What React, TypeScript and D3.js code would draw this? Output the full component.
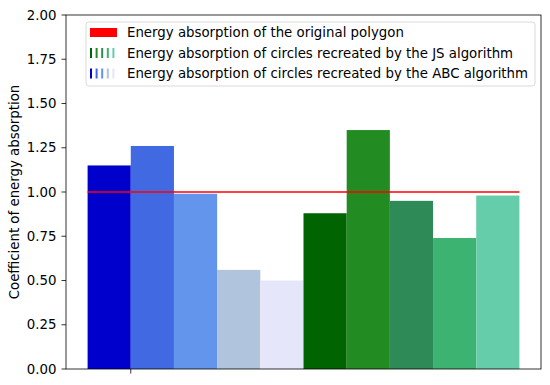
import * as d3 from "d3"
import React from "react"

const abcColors = ["#0000CD", "#4169E1", "#6495ED", "#B0C4DE", "#E6E6FA"]
const jsColors = ["#006400", "#228B22", "#2E8B57", "#3CB371", "#66CDAA"]
const abcValues = [1.15, 1.26, 0.99, 0.56, 0.5]
const jsValues = [0.88, 1.35, 0.95, 0.74, 0.98]
const polygonValue = 1.0
const yTicks = [0, 0.25, 0.5, 0.75, 1, 1.25, 1.5, 1.75, 2]
const legendLabels = [
  "Energy absorption of the original polygon",
  "Energy absorption of circles recreated by the JS algorithm",
  "Energy absorption of circles recreated by the ABC algorithm",
]

const width = 550
const height = 385
const margin = { top: 15, right: 9, bottom: 16, left: 66 }

const App = () => {
  const bars = [
    ...abcValues.map((v, i) => ({ pos: i, value: v, color: abcColors[i] })),
    ...jsValues.map((v, i) => ({ pos: 5 + i, value: v, color: jsColors[i] })),
  ]

  const x = d3.scaleLinear().domain([-0.5, 10.5]).range([margin.left, width - margin.right])
  const y = d3.scaleLinear().domain([0, 2]).range([height - margin.bottom, margin.top])
  const fmt = d3.format(".2f")
  const font = "DejaVu Sans, sans-serif"
  const fs = 13.33

  const lx = 86, ly = 22
  const rowY = [32, 53, 73]

  return (
    <svg width={width} height={height} style={{ position: "absolute", left: 0, top: 0 }} fontFamily={font}>
      <rect width={width} height={height} fill="#fff" />
      {bars.map((b, i) => (
        <rect key={i} x={x(b.pos)} y={y(b.value)} width={x(b.pos + 1) - x(b.pos)}
          height={y(0) - y(b.value)} fill={b.color} />
      ))}
      <line x1={x(0)} x2={x(10)} y1={y(polygonValue)} y2={y(polygonValue)} stroke="#ff0000" strokeWidth={1.5} />

      {/* axes */}
      <rect x={margin.left} y={margin.top} width={width - margin.left - margin.right}
        height={height - margin.top - margin.bottom} fill="none" stroke="#000" strokeWidth={0.8} />
      {yTicks.map(t => (
        <g key={t}>
          <line x1={margin.left - 4.5} x2={margin.left} y1={y(t)} y2={y(t)} stroke="#000" strokeWidth={0.8} />
          <text x={margin.left - 9.5} y={y(t)} dy="0.35em" textAnchor="end" fontSize={fs} fill="#000">{fmt(t)}</text>
        </g>
      ))}
      <line x1={x(1)} x2={x(1)} y1={y(0)} y2={y(0) + 4.5} stroke="#000" strokeWidth={0.8} />
      <text transform={`translate(19,${(margin.top + height - margin.bottom) / 2}) rotate(-90)`}
        textAnchor="middle" fontSize={fs} fill="#000">Coefficient of energy absorption</text>

      {/* legend */}
      <rect x={lx} y={ly} width={449} height={64} rx={3} fill="#fff" fillOpacity={0.8} stroke="#d0d0d0" strokeWidth={0.8} />
      <rect x={90} y={28} width={27} height={9} fill="#ff0000" />
      {jsColors.map((c, i) => (
        <rect key={"j" + i} x={90 + i * 5.6} y={48} width={2} height={10} fill={c} />
      ))}
      {abcColors.map((c, i) => (
        <rect key={"a" + i} x={90 + i * 5.6} y={68.5} width={2} height={10} fill={c} />
      ))}
      {legendLabels.map((l, i) => (
        <text key={l} x={127} y={rowY[i]} dy="0.35em" fontSize={fs} fill="#000">{l}</text>
      ))}
    </svg>
  )
}

export default App
